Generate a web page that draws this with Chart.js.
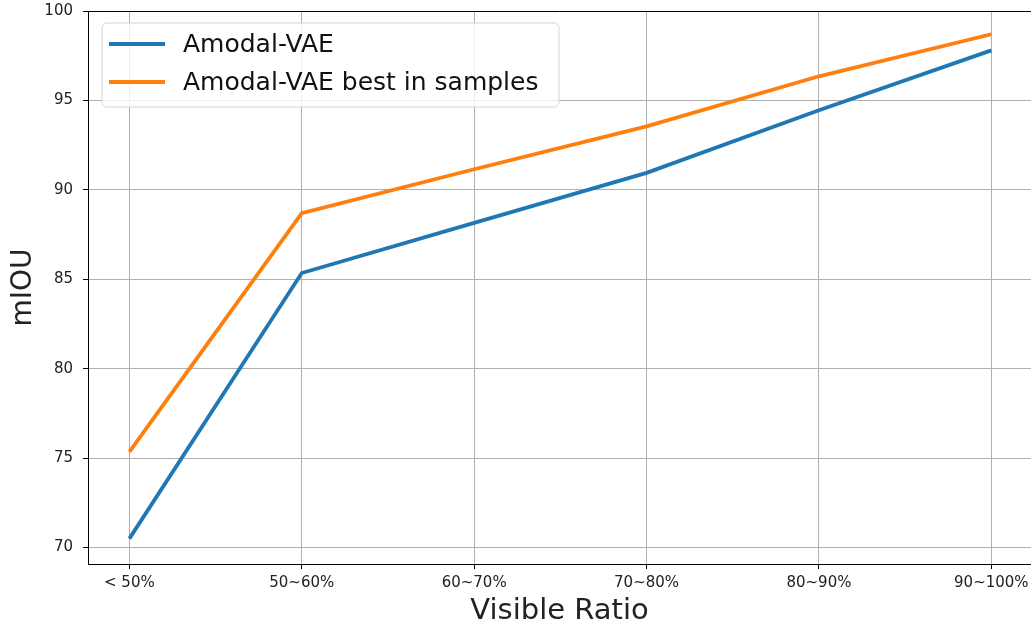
<!DOCTYPE html>
<html>
<head>
<meta charset="utf-8">
<script src="https://cdn.jsdelivr.net/npm/chart.js@4/dist/chart.umd.min.js"></script>
<style>
    html, body { margin: 0; padding: 0; background: #fff; }
    #wrap { width: 1031px; height: 626px; }
</style>
</head>
<body>
<div id="wrap"><canvas id="miou_chart" width="1031" height="626"></canvas></div>
<script>
var categories = ['< 50%', '50~60%', '60~70%', '70~80%', '80~90%', '90~100%'];
var vae_values = [70.5, 85.35, 88.15, 90.95, 94.45, 97.8];
var best_values = [75.35, 88.7, 91.15, 93.55, 96.35, 98.7];
var y_ticks = [70, 75, 80, 85, 90, 95, 100];
var series_labels = ['Amodal-VAE', 'Amodal-VAE best in samples'];
var series_colors = ['#1f77b4', '#ff7f0e'];

var FONT = "'DejaVu Sans', sans-serif";

function toPoints(values){
    var pts = [];
    values.forEach(function(v, i){
        pts.push({x: i, y: v});
    });
    return pts;
}

// top spine + legend box drawn inside the plot like matplotlib does
var framePlugin = {
    id: 'frame',
    afterDraw: function(chart){
        var ctx = chart.ctx;
        var area = chart.chartArea;
        ctx.save();
        ctx.strokeStyle = '#000';
        ctx.lineWidth = 1;
        ctx.beginPath();
        ctx.moveTo(area.left, area.top + 0.5);
        ctx.lineTo(area.right, area.top + 0.5);
        ctx.stroke();

        // legend
        var bx = 102, by = 23, bw = 457, bh = 84, r = 5;
        ctx.beginPath();
        ctx.moveTo(bx + r, by);
        ctx.arcTo(bx + bw, by, bx + bw, by + bh, r);
        ctx.arcTo(bx + bw, by + bh, bx, by + bh, r);
        ctx.arcTo(bx, by + bh, bx, by, r);
        ctx.arcTo(bx, by, bx + bw, by, r);
        ctx.closePath();
        ctx.fillStyle = 'rgba(255,255,255,0.8)';
        ctx.fill();
        ctx.strokeStyle = 'rgba(204,204,204,0.8)';
        ctx.stroke();

        ctx.font = '25px ' + FONT;
        ctx.textBaseline = 'middle';
        ctx.textAlign = 'left';
        chart.data.datasets.forEach(function(ds, i){
            var ly = 44 + i * 38;
            ctx.strokeStyle = ds.borderColor;
            ctx.lineWidth = 4;
            ctx.beginPath();
            ctx.moveTo(109, ly);
            ctx.lineTo(165, ly);
            ctx.stroke();
            ctx.fillStyle = '#111';
            ctx.fillText(ds.label, 183, ly + 1);
        });
        ctx.restore();
    }
};

var ctx = document.getElementById('miou_chart').getContext('2d');
var chart1 = new Chart(ctx, {
    type: 'line',
    data: {
        datasets: [{
            label: series_labels[0],
            data: toPoints(vae_values),
            borderColor: series_colors[0],
            borderWidth: 3.8,
            pointRadius: 0,
            fill: false
        }, {
            label: series_labels[1],
            data: toPoints(best_values),
            borderColor: series_colors[1],
            borderWidth: 3.8,
            pointRadius: 0,
            fill: false
        }]
    },
    options: {
        responsive: false,
        animation: false,
        layout: { padding: { top: 11, right: 0, left: 0, bottom: 0 } },
        plugins: {
            legend: { display: false },
            tooltip: { enabled: false }
        },
        scales: {
            x: {
                type: 'linear',
                min: -0.24,
                max: 5.23,
                afterBuildTicks: function(scale){
                    scale.ticks = categories.map(function(c, i){ return {value: i}; });
                },
                afterFit: function(scale){
                    scale.height = 62;
                    scale.paddingLeft = 0;
                    scale.paddingRight = 0;
                },
                ticks: {
                    callback: function(value){ return categories[value]; },
                    font: { family: FONT, size: 15 },
                    color: '#222',
                    padding: 5,
                    maxRotation: 0,
                    autoSkip: false
                },
                grid: {
                    color: '#b0b0b0',
                    lineWidth: 1,
                    tickLength: 5,
                    tickColor: '#000'
                },
                border: { color: '#000', width: 1 },
                title: {
                    display: true,
                    text: 'Visible Ratio',
                    font: { family: FONT, size: 29, lineHeight: 1 },
                    color: '#222',
                    padding: { top: 0, bottom: 0 }
                }
            },
            y: {
                min: 69.08,
                max: 100,
                afterBuildTicks: function(scale){
                    scale.ticks = y_ticks.map(function(v){ return {value: v}; });
                },
                afterFit: function(scale){
                    scale.width = 88;
                    scale.paddingTop = 0;
                    scale.paddingBottom = 0;
                },
                ticks: {
                    font: { family: FONT, size: 15 },
                    color: '#222',
                    padding: 10
                },
                grid: {
                    color: '#b0b0b0',
                    lineWidth: 1,
                    tickLength: 5,
                    tickColor: '#000'
                },
                border: { color: '#000', width: 1 },
                title: {
                    display: true,
                    text: 'mIOU',
                    font: { family: FONT, size: 28, lineHeight: 1 },
                    color: '#222',
                    padding: { top: 10, bottom: 0 }
                }
            }
        }
    },
    plugins: [framePlugin]
});
</script>
</body>
</html>
